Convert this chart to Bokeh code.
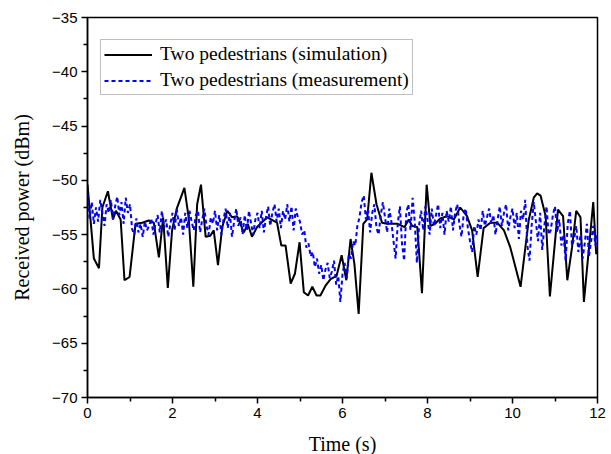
from bokeh.plotting import figure
from bokeh.models import Legend, LegendItem, Range1d, FixedTicker
from bokeh.embed import file_html
from bokeh.resources import INLINE

# Simulation (black solid)
sim_t = [0.0, 0.15, 0.27, 0.35, 0.48, 0.6, 0.67, 0.78, 0.87, 0.99, 1.13, 1.29, 1.44, 1.56, 1.68, 1.78,
         1.89, 1.99, 2.1, 2.28, 2.38, 2.49, 2.58, 2.67, 2.78, 2.89, 2.97, 3.07, 3.17, 3.29, 3.4, 3.52,
         3.68, 3.77, 3.87, 3.99, 4.23, 4.46, 4.56, 4.66, 4.78, 4.88, 4.99, 5.09, 5.19, 5.29, 5.39, 5.48,
         5.6, 5.72, 5.86, 5.98, 6.09, 6.19, 6.28, 6.38, 6.49, 6.58, 6.68, 6.8, 6.93, 7.05, 7.29, 7.46,
         7.56, 7.64, 7.76, 7.87, 7.98, 8.07, 8.18, 8.3, 8.46, 8.62, 8.77, 8.93, 9.05, 9.18, 9.32, 9.48,
         9.64, 9.8, 9.95, 10.19, 10.38, 10.5, 10.58, 10.66, 10.78, 10.88, 11.07, 11.19, 11.29, 11.4,
         11.5, 11.6, 11.68, 11.9, 11.97]
sim_db = [-50.4, -57.2, -58.1, -52.5, -51.0, -53.6, -52.8, -53.6, -59.2, -58.9, -54.0, -53.9, -53.7,
          -53.9, -57.1, -53.4, -59.9, -54.6, -52.6, -50.7, -53.4, -59.8, -52.2, -50.4, -55.2, -55.1,
          -54.6, -57.8, -54.3, -52.8, -53.4, -53.3, -54.8, -54.0, -55.2, -54.3, -53.4, -53.9, -56.0,
          -56.0, -59.5, -58.6, -55.7, -60.3, -60.6, -59.8, -60.6, -60.6, -59.7, -59.1, -58.8, -56.9,
          -59.2, -55.4, -57.7, -62.3, -54.0, -53.6, -49.3, -52.2, -53.9, -54.0, -54.0, -54.3, -53.6,
          -54.2, -54.3, -60.4, -50.4, -54.2, -54.0, -53.5, -53.3, -53.6, -52.5, -53.3, -54.6, -58.9,
          -54.4, -53.9, -53.9, -54.6, -56.2, -59.8, -53.7, -51.6, -51.2, -51.4, -53.3, -60.7, -52.7,
          -53.3, -59.2, -56.2, -52.8, -53.4, -61.2, -52.0, -56.8]

# Measurement (blue dashed), sampled every 0.05 s from 0 to 12 s
meas_step = 0.05
meas_db = [
    -51.2, -53.5, -52.0, -54.0, -52.5, -53.8, -51.8, -53.0, -54.2, -52.2,
    -53.0, -51.8, -53.6, -52.4, -51.5, -53.2, -52.0, -54.0, -51.6, -53.0,
    -52.2, -54.5, -55.0, -53.5, -54.8, -54.0, -55.2, -53.8, -54.6, -54.2,
    -53.5, -55.0, -54.0, -53.2, -54.8, -52.8, -54.4, -53.6, -55.2, -54.0,
    -53.0, -54.6, -52.6, -54.2, -53.4, -55.0, -53.0, -54.4, -52.8, -53.8,
    -54.6, -53.2, -52.8, -54.8, -53.6, -52.6, -54.2, -55.0, -53.4, -54.0,
    -52.8, -54.6, -53.2, -55.0, -53.6, -52.6, -54.4, -53.0, -55.2, -53.8,
    -52.6, -54.2, -53.4, -55.0, -53.2, -54.6, -52.8, -54.0, -55.0, -53.6,
    -53.0, -54.4, -52.8, -54.8, -53.4, -52.4, -54.2, -53.0, -52.2, -53.8,
    -52.6, -54.4, -52.8, -53.6, -52.2, -53.8, -52.4, -54.6, -52.6, -53.4,
    -53.8, -55.0, -54.6, -56.2, -55.8, -57.0, -56.6, -58.0, -57.2, -58.6,
    -57.8, -59.2, -58.2, -57.6, -59.0, -58.4, -57.4, -59.6, -58.8, -61.2,
    -58.6, -57.6, -59.0, -56.8, -57.2, -55.6, -56.0, -54.2, -53.4, -52.0,
    -51.4, -53.6, -52.6, -54.8, -53.0, -52.2, -54.4, -55.0, -53.2, -52.0,
    -53.4, -54.8, -52.6, -53.8, -55.6, -57.2, -54.0, -52.4, -55.8, -57.4,
    -53.0, -52.2, -54.6, -51.6, -53.8, -57.6, -54.2, -52.8, -54.6, -52.4,
    -53.6, -55.0, -52.6, -54.2, -53.2, -52.2, -54.4, -53.0, -55.0, -52.8,
    -53.8, -52.4, -54.6, -53.0, -52.2, -54.0, -55.2, -53.2, -52.6, -54.4,
    -55.6, -56.6, -54.2, -55.0, -53.6, -54.6, -52.8, -54.2, -53.4, -52.6,
    -54.0, -53.2, -55.0, -53.6, -52.4, -54.2, -53.0, -52.2, -54.6, -53.4,
    -52.6, -54.4, -53.0, -55.4, -52.8, -53.6, -51.8, -56.0, -57.4, -54.2,
    -52.0, -53.8, -55.6, -53.0, -56.4, -54.2, -52.4, -55.0, -54.6, -53.2,
    -52.4, -54.8, -53.6, -56.0, -55.0, -57.4, -54.0, -52.8, -56.0, -55.4,
    -54.2, -56.6, -55.0, -57.2, -55.8, -54.0, -57.0, -55.6, -54.2, -56.0,
    -54.8,
]
meas_t = [round(i * meas_step, 2) for i in range(len(meas_db))]

x_ticks = [0, 2, 4, 6, 8, 10, 12]
y_ticks = [-70, -65, -60, -55, -50, -45, -40, -35]

p = figure(width=611, height=454, output_backend="svg", toolbar_location=None,
           x_range=Range1d(0, 12), y_range=Range1d(-70, -35),
           frame_width=510, frame_height=380,
           min_border_left=87, min_border_right=14, min_border_top=17, min_border_bottom=57)
p.background_fill_color = "white"
p.border_fill_color = "white"
p.outline_line_color = "black"
p.outline_line_width = 1.5
p.grid.visible = False

r_sim = p.line(sim_t, sim_db, line_color="black", line_width=2)
r_meas = p.line(meas_t, meas_db, line_color="#0000ff", line_width=2, line_dash="4 3")

for ax in (p.xaxis[0], p.yaxis[0]):
    ax.axis_line_color = "black"
    ax.axis_line_width = 1.5
    ax.major_tick_line_color = "black"
    ax.major_tick_line_width = 1.5
    ax.minor_tick_line_color = "black"
    ax.minor_tick_line_width = 1.5
    ax.major_tick_out = 6
    ax.major_tick_in = 0
    ax.minor_tick_out = 4
    ax.minor_tick_in = 0
    ax.major_label_text_font = "Liberation Sans"
    ax.major_label_text_font_size = "15px"
    ax.major_label_text_color = "black"
    ax.axis_label_text_font = "Liberation Serif"
    ax.axis_label_text_font_size = "20px"
    ax.axis_label_text_font_style = "normal"
    ax.axis_label_text_color = "black"

p.xaxis[0].ticker = FixedTicker(ticks=x_ticks, minor_ticks=[1, 3, 5, 7, 9, 11])
p.yaxis[0].ticker = FixedTicker(ticks=y_ticks, minor_ticks=[-67.5, -62.5, -57.5, -52.5, -47.5, -42.5, -37.5])
p.xaxis[0].axis_label = "Time (s)"
p.yaxis[0].axis_label = "Received power (dBm)"
p.xaxis[0].major_label_standoff = 4
p.xaxis[0].axis_label_standoff = 12
p.yaxis[0].major_label_standoff = 4
p.yaxis[0].axis_label_standoff = 16

legend = Legend(items=[LegendItem(label="Two pedestrians (simulation)", renderers=[r_sim]),
                       LegendItem(label="Two pedestrians (measurement)", renderers=[r_meas])],
                location=(13, 302))
legend.label_text_font = "Liberation Serif"
legend.label_text_font_size = "19.5px"
legend.label_text_color = "black"
legend.glyph_width = 48
legend.glyph_height = 19
legend.label_height = 19
legend.label_standoff = 8
legend.spacing = 4
legend.padding = 3
legend.margin = 0
legend.border_line_color = "#808080"
legend.border_line_width = 1
legend.background_fill_alpha = 1
p.add_layout(legend)

open("out.html", "w").write(file_html(p, INLINE))
